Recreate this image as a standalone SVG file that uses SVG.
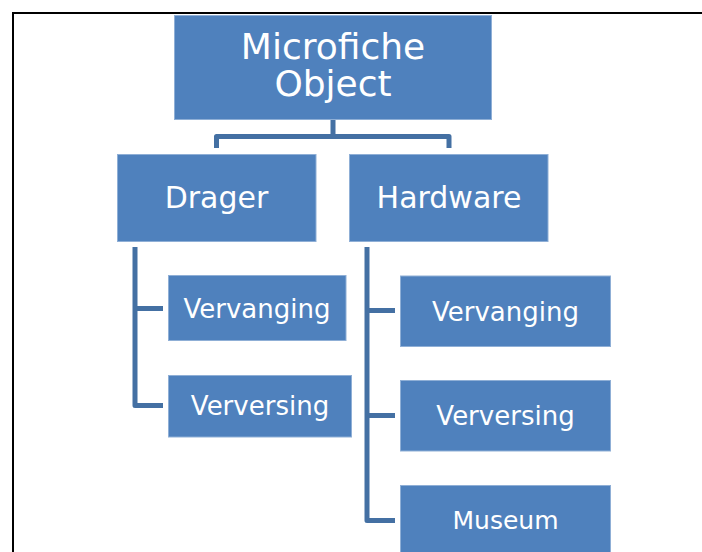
<svg xmlns="http://www.w3.org/2000/svg" width="702" height="552" viewBox="0 0 702 552">
  <style>
    .box { fill: #4F81BD; stroke: #8FAFD6; stroke-width: 1; }
    .lbl { fill: #ffffff; font-family: "DejaVu Sans", Verdana, sans-serif; text-anchor: middle; }
    .conn { fill: none; stroke: #4470A3; stroke-width: 5; stroke-linejoin: round; stroke-linecap: butt; }
  </style>
  <rect width="702" height="552" fill="#ffffff"/>
  <!-- page frame -->
  <path d="M13,552 V13 H702" fill="none" stroke="#000000" stroke-width="2"/>

  <g id="connectors">
    <path class="conn" d="M333,120 V136.5 M216.5,148 V136.5 H449 V148"/>
    <path class="conn" d="M135,247 V405.5 H163 M135,308.5 H163"/>
    <path class="conn" d="M367,247 V520.5 H395 M367,310.5 H395 M367,415.5 H395"/>
  </g>

  <g id="microfiche-object">
    <rect class="box" x="174.5" y="15.5" width="317" height="104"/>
    <text class="lbl" font-size="36" x="333" y="59">Microfiche</text>
    <text class="lbl" font-size="36" x="333" y="96">Object</text>
  </g>

  <g id="drager">
    <rect class="box" x="117.5" y="154.5" width="198.5" height="87"/>
    <text class="lbl" font-size="30" x="216.5" y="208">Drager</text>
  </g>

  <g id="hardware">
    <rect class="box" x="349.5" y="154.5" width="198.5" height="87"/>
    <text class="lbl" font-size="30" x="449" y="208">Hardware</text>
  </g>

  <g id="drager-vervanging">
    <rect class="box" x="168.5" y="275.5" width="177.5" height="65"/>
    <text class="lbl" font-size="26" x="257" y="318">Vervanging</text>
  </g>

  <g id="drager-verversing">
    <rect class="box" x="168.5" y="375.5" width="183" height="61.5"/>
    <text class="lbl" font-size="26" x="260" y="415">Verversing</text>
  </g>

  <g id="hardware-vervanging">
    <rect class="box" x="400.5" y="276" width="210" height="70.5"/>
    <text class="lbl" font-size="26" x="505.5" y="321">Vervanging</text>
  </g>

  <g id="hardware-verversing">
    <rect class="box" x="400.5" y="380.5" width="210" height="70.5"/>
    <text class="lbl" font-size="26" x="505.5" y="425">Verversing</text>
  </g>

  <g id="hardware-museum">
    <rect class="box" x="400.5" y="485.5" width="210" height="71"/>
    <text class="lbl" font-size="25" x="505.5" y="529">Museum</text>
  </g>
</svg>
